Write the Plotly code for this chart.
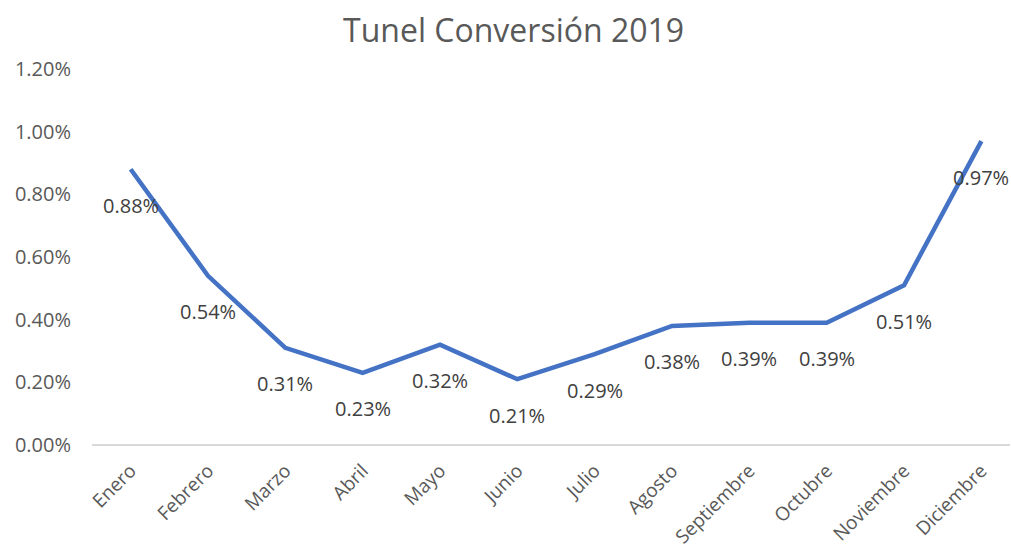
import plotly.graph_objects as go

# Monthly conversion rate (%) for 2019
meses = ["Enero", "Febrero", "Marzo", "Abril", "Mayo", "Junio", "Julio",
         "Agosto", "Septiembre", "Octubre", "Noviembre", "Diciembre"]
conversion = [0.88, 0.54, 0.31, 0.23, 0.32, 0.21, 0.29, 0.38, 0.39, 0.39, 0.51, 0.97]
y_ticks = [0.0, 0.2, 0.4, 0.6, 0.8, 1.0, 1.2]

FONT = "Open Sans, Liberation Sans, sans-serif"
GRAY = "#595959"

fig = go.Figure()
fig.add_trace(go.Scatter(
    x=meses, y=conversion, mode="lines",
    line=dict(color="#4472C4", width=4.5),
    hoverinfo="skip",
))

# Data labels under each point
for m, v in zip(meses, conversion):
    fig.add_annotation(
        x=m, y=v, text=f"{v:.2f}%", showarrow=False, yshift=-36,
        font=dict(family=FONT, size=20, color="#404040"),
    )

fig.update_layout(
    width=1011, height=552,
    paper_bgcolor="white", plot_bgcolor="white",
    margin=dict(l=92, r=1, t=69, b=107),
    showlegend=False,
    title=dict(text="Tunel Conversión 2019", x=0.508, xanchor="center",
               y=0.945, yanchor="middle",
               font=dict(family=FONT, size=32, color=GRAY)),
    xaxis=dict(
        type="category", range=[-0.5, 11.37], tickangle=-45,
        showgrid=False, zeroline=False, automargin=False,
        showline=False, ticks="", ticklabelstandoff=10,
        tickfont=dict(family=FONT, size=19, color=GRAY),
    ),
    yaxis=dict(
        range=[0, 1.2], tickvals=y_ticks, ticktext=[f"{t:.2f}%" for t in y_ticks],
        showgrid=False, zeroline=True, zerolinecolor="#d9d9d9", zerolinewidth=1.5,
        showline=False, ticks="", ticklabelstandoff=20, automargin=False,
        tickfont=dict(family=FONT, size=20, color=GRAY),
    ),
)

fig.write_html("out.html")
